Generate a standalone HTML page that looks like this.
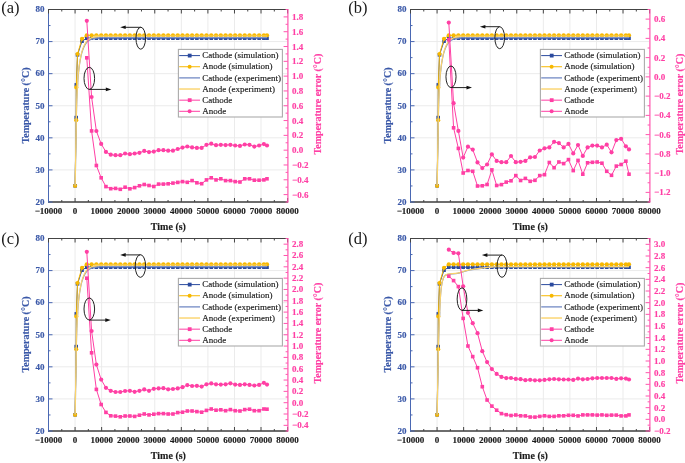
<!DOCTYPE html>
<html><head><meta charset="utf-8"><title>Temperature figure</title>
<style>html,body{margin:0;padding:0;background:#fff;width:685px;height:463px;overflow:hidden;font-family:"Liberation Serif",serif}svg{display:block;will-change:transform;filter:blur(0.25px)}</style>
</head><body>
<svg width="685" height="463" viewBox="0 0 685 463"><g transform="translate(0,0)">
<path d="M75.07,10 V201.5 M101.63,10 V201.5 M128.2,10 V201.5 M154.77,10 V201.5 M181.33,10 V201.5 M207.9,10 V201.5 M234.47,10 V201.5 M261.03,10 V201.5 M49,169.92 H287.1 M49,137.83 H287.1 M49,105.75 H287.1 M49,73.67 H287.1 M49,41.58 H287.1" stroke="#ebebeb" stroke-width="1" fill="none"/>
<polyline points="75.1,185.8 76.2,117.6 76.3,84.9 77.5,54.8 82.01,41.2 86.8,38.2 91.59,38.2 96.37,38.2 101.16,38.2 105.94,38.2 110.73,38.2 115.52,38.2 120.3,38.2 125.09,38.2 129.87,38.2 134.66,38.2 139.45,38.2 144.23,38.2 149.02,38.2 153.8,38.2 158.59,38.2 163.38,38.2 168.16,38.2 172.95,38.2 177.73,38.2 182.52,38.2 187.31,38.2 192.09,38.2 196.88,38.2 201.66,38.2 206.45,38.2 211.24,38.2 216.02,38.2 220.81,38.2 225.59,38.2 230.38,38.2 235.17,38.2 239.95,38.2 244.74,38.2 249.52,38.2 254.31,38.2 259.1,38.2 263.88,38.2 267,38.2" stroke="#2b4a9e" stroke-width="1" fill="none"/>
<g fill="#2b4a9e"><rect x="73.3" y="184" width="3.6" height="3.6"/><rect x="74.4" y="115.8" width="3.6" height="3.6"/><rect x="74.5" y="83.1" width="3.6" height="3.6"/><rect x="75.7" y="53" width="3.6" height="3.6"/><rect x="80.21" y="39.4" width="3.6" height="3.6"/><rect x="85" y="36.4" width="3.6" height="3.6"/><rect x="89.79" y="36.4" width="3.6" height="3.6"/><rect x="94.57" y="36.4" width="3.6" height="3.6"/><rect x="99.36" y="36.4" width="3.6" height="3.6"/><rect x="104.14" y="36.4" width="3.6" height="3.6"/><rect x="108.93" y="36.4" width="3.6" height="3.6"/><rect x="113.72" y="36.4" width="3.6" height="3.6"/><rect x="118.5" y="36.4" width="3.6" height="3.6"/><rect x="123.29" y="36.4" width="3.6" height="3.6"/><rect x="128.07" y="36.4" width="3.6" height="3.6"/><rect x="132.86" y="36.4" width="3.6" height="3.6"/><rect x="137.65" y="36.4" width="3.6" height="3.6"/><rect x="142.43" y="36.4" width="3.6" height="3.6"/><rect x="147.22" y="36.4" width="3.6" height="3.6"/><rect x="152" y="36.4" width="3.6" height="3.6"/><rect x="156.79" y="36.4" width="3.6" height="3.6"/><rect x="161.58" y="36.4" width="3.6" height="3.6"/><rect x="166.36" y="36.4" width="3.6" height="3.6"/><rect x="171.15" y="36.4" width="3.6" height="3.6"/><rect x="175.93" y="36.4" width="3.6" height="3.6"/><rect x="180.72" y="36.4" width="3.6" height="3.6"/><rect x="185.51" y="36.4" width="3.6" height="3.6"/><rect x="190.29" y="36.4" width="3.6" height="3.6"/><rect x="195.08" y="36.4" width="3.6" height="3.6"/><rect x="199.86" y="36.4" width="3.6" height="3.6"/><rect x="204.65" y="36.4" width="3.6" height="3.6"/><rect x="209.44" y="36.4" width="3.6" height="3.6"/><rect x="214.22" y="36.4" width="3.6" height="3.6"/><rect x="219.01" y="36.4" width="3.6" height="3.6"/><rect x="223.79" y="36.4" width="3.6" height="3.6"/><rect x="228.58" y="36.4" width="3.6" height="3.6"/><rect x="233.37" y="36.4" width="3.6" height="3.6"/><rect x="238.15" y="36.4" width="3.6" height="3.6"/><rect x="242.94" y="36.4" width="3.6" height="3.6"/><rect x="247.72" y="36.4" width="3.6" height="3.6"/><rect x="252.51" y="36.4" width="3.6" height="3.6"/><rect x="257.3" y="36.4" width="3.6" height="3.6"/><rect x="262.08" y="36.4" width="3.6" height="3.6"/><rect x="265.2" y="36.4" width="3.6" height="3.6"/></g>
<polyline points="75.1,185.8 76.2,120.2 76.3,87.4 77.5,54 82.01,38.8 86.8,35.3 91.59,35.3 96.37,35.3 101.16,35.3 105.94,35.3 110.73,35.3 115.52,35.3 120.3,35.3 125.09,35.3 129.87,35.3 134.66,35.3 139.45,35.3 144.23,35.3 149.02,35.3 153.8,35.3 158.59,35.3 163.38,35.3 168.16,35.3 172.95,35.3 177.73,35.3 182.52,35.3 187.31,35.3 192.09,35.3 196.88,35.3 201.66,35.3 206.45,35.3 211.24,35.3 216.02,35.3 220.81,35.3 225.59,35.3 230.38,35.3 235.17,35.3 239.95,35.3 244.74,35.3 249.52,35.3 254.31,35.3 259.1,35.3 263.88,35.3 267,35.3" stroke="#f7b800" stroke-width="1" fill="none"/>
<g fill="#f7b800"><circle cx="75.1" cy="185.8" r="2.1"/><circle cx="76.2" cy="120.2" r="2.1"/><circle cx="76.3" cy="87.4" r="2.1"/><circle cx="77.5" cy="54" r="2.1"/><circle cx="82.01" cy="38.8" r="2.1"/><circle cx="86.8" cy="35.3" r="2.1"/><circle cx="91.59" cy="35.3" r="2.1"/><circle cx="96.37" cy="35.3" r="2.1"/><circle cx="101.16" cy="35.3" r="2.1"/><circle cx="105.94" cy="35.3" r="2.1"/><circle cx="110.73" cy="35.3" r="2.1"/><circle cx="115.52" cy="35.3" r="2.1"/><circle cx="120.3" cy="35.3" r="2.1"/><circle cx="125.09" cy="35.3" r="2.1"/><circle cx="129.87" cy="35.3" r="2.1"/><circle cx="134.66" cy="35.3" r="2.1"/><circle cx="139.45" cy="35.3" r="2.1"/><circle cx="144.23" cy="35.3" r="2.1"/><circle cx="149.02" cy="35.3" r="2.1"/><circle cx="153.8" cy="35.3" r="2.1"/><circle cx="158.59" cy="35.3" r="2.1"/><circle cx="163.38" cy="35.3" r="2.1"/><circle cx="168.16" cy="35.3" r="2.1"/><circle cx="172.95" cy="35.3" r="2.1"/><circle cx="177.73" cy="35.3" r="2.1"/><circle cx="182.52" cy="35.3" r="2.1"/><circle cx="187.31" cy="35.3" r="2.1"/><circle cx="192.09" cy="35.3" r="2.1"/><circle cx="196.88" cy="35.3" r="2.1"/><circle cx="201.66" cy="35.3" r="2.1"/><circle cx="206.45" cy="35.3" r="2.1"/><circle cx="211.24" cy="35.3" r="2.1"/><circle cx="216.02" cy="35.3" r="2.1"/><circle cx="220.81" cy="35.3" r="2.1"/><circle cx="225.59" cy="35.3" r="2.1"/><circle cx="230.38" cy="35.3" r="2.1"/><circle cx="235.17" cy="35.3" r="2.1"/><circle cx="239.95" cy="35.3" r="2.1"/><circle cx="244.74" cy="35.3" r="2.1"/><circle cx="249.52" cy="35.3" r="2.1"/><circle cx="254.31" cy="35.3" r="2.1"/><circle cx="259.1" cy="35.3" r="2.1"/><circle cx="263.88" cy="35.3" r="2.1"/><circle cx="267" cy="35.3" r="2.1"/></g>
<path d="M75.2,185.5 C75.27,181.25 75.43,170.08 75.6,160 C75.77,149.92 76,135 76.2,125 C76.4,115 76.52,107.58 76.8,100 C77.08,92.42 77.5,85.07 77.9,79.5 C78.3,73.93 78.78,69.98 79.2,66.6 C79.62,63.22 80,61.37 80.4,59.2 C80.8,57.03 81.05,55.53 81.6,53.6 C82.15,51.67 82.82,49.53 83.7,47.6 C84.58,45.67 85.62,43.4 86.9,42 C88.18,40.6 89.57,39.87 91.4,39.2 C93.23,38.53 94.8,38.25 97.9,38 C101,37.75 81.82,37.77 110,37.7 C138.18,37.63 240.83,37.62 267,37.6" stroke="#7d93c9" stroke-width="1.2" fill="none"/>
<path d="M75.2,185.5 C75.27,181.25 75.43,170.08 75.6,160 C75.77,149.92 76,135 76.2,125 C76.4,115 76.52,107.67 76.8,100 C77.08,92.33 77.5,84.67 77.9,79 C78.3,73.33 78.78,69.42 79.2,66 C79.62,62.58 80,60.7 80.4,58.5 C80.8,56.3 81.05,54.78 81.6,52.8 C82.15,50.82 82.82,48.6 83.7,46.6 C84.58,44.6 85.62,42.25 86.9,40.8 C88.18,39.35 89.57,38.6 91.4,37.9 C93.23,37.2 94.8,36.9 97.9,36.6 C101,36.3 81.82,36.2 110,36.1 C138.18,36 240.83,36.02 267,36" stroke="#fbd36a" stroke-width="1.2" fill="none"/>
<polyline points="86.8,57.8 91.59,130.9 96.37,165.5 101.16,177.8 105.94,186.6 110.73,188.7 115.52,188.4 120.3,189.3 125.09,187.2 129.87,188.8 134.66,187.6 139.45,185.8 144.23,184.5 149.02,185.5 153.8,186.5 158.59,184.1 163.38,184.1 168.16,183.8 172.95,183.1 177.73,182.4 182.52,181.6 187.31,182.3 192.09,180.6 196.88,182.8 201.66,183.7 206.45,179.9 211.24,177.8 216.02,179.9 220.81,178.8 225.59,180.6 230.38,180.6 235.17,181.6 239.95,182 244.74,178.8 249.52,178.8 254.31,180.2 259.1,180.2 263.88,179.9 267,178.8" stroke="#ff3fa4" stroke-width="1" fill="none"/>
<g fill="#ff3fa4"><rect x="85" y="56" width="3.6" height="3.6"/><rect x="89.79" y="129.1" width="3.6" height="3.6"/><rect x="94.57" y="163.7" width="3.6" height="3.6"/><rect x="99.36" y="176" width="3.6" height="3.6"/><rect x="104.14" y="184.8" width="3.6" height="3.6"/><rect x="108.93" y="186.9" width="3.6" height="3.6"/><rect x="113.72" y="186.6" width="3.6" height="3.6"/><rect x="118.5" y="187.5" width="3.6" height="3.6"/><rect x="123.29" y="185.4" width="3.6" height="3.6"/><rect x="128.07" y="187" width="3.6" height="3.6"/><rect x="132.86" y="185.8" width="3.6" height="3.6"/><rect x="137.65" y="184" width="3.6" height="3.6"/><rect x="142.43" y="182.7" width="3.6" height="3.6"/><rect x="147.22" y="183.7" width="3.6" height="3.6"/><rect x="152" y="184.7" width="3.6" height="3.6"/><rect x="156.79" y="182.3" width="3.6" height="3.6"/><rect x="161.58" y="182.3" width="3.6" height="3.6"/><rect x="166.36" y="182" width="3.6" height="3.6"/><rect x="171.15" y="181.3" width="3.6" height="3.6"/><rect x="175.93" y="180.6" width="3.6" height="3.6"/><rect x="180.72" y="179.8" width="3.6" height="3.6"/><rect x="185.51" y="180.5" width="3.6" height="3.6"/><rect x="190.29" y="178.8" width="3.6" height="3.6"/><rect x="195.08" y="181" width="3.6" height="3.6"/><rect x="199.86" y="181.9" width="3.6" height="3.6"/><rect x="204.65" y="178.1" width="3.6" height="3.6"/><rect x="209.44" y="176" width="3.6" height="3.6"/><rect x="214.22" y="178.1" width="3.6" height="3.6"/><rect x="219.01" y="177" width="3.6" height="3.6"/><rect x="223.79" y="178.8" width="3.6" height="3.6"/><rect x="228.58" y="178.8" width="3.6" height="3.6"/><rect x="233.37" y="179.8" width="3.6" height="3.6"/><rect x="238.15" y="180.2" width="3.6" height="3.6"/><rect x="242.94" y="177" width="3.6" height="3.6"/><rect x="247.72" y="177" width="3.6" height="3.6"/><rect x="252.51" y="178.4" width="3.6" height="3.6"/><rect x="257.3" y="178.4" width="3.6" height="3.6"/><rect x="262.08" y="178.1" width="3.6" height="3.6"/><rect x="265.2" y="177" width="3.6" height="3.6"/></g>
<polyline points="86.8,20.8 91.59,97 96.37,131 101.16,143.9 105.94,151.9 110.73,154.7 115.52,155.2 120.3,155.2 125.09,153.5 129.87,154.2 134.66,153.5 139.45,152.8 144.23,150.9 149.02,152.1 153.8,151.6 158.59,150.2 163.38,150.2 168.16,150.7 172.95,150.7 177.73,149 182.52,147.6 187.31,146.5 192.09,147.4 196.88,147.9 201.66,147.9 206.45,144.8 211.24,143.7 216.02,145.2 220.81,144.8 225.59,145.1 230.38,144.8 235.17,145.5 239.95,145.9 244.74,144.5 249.52,144.8 254.31,146.6 259.1,145.5 263.88,144.1 267,145.5" stroke="#ff3fa4" stroke-width="1" fill="none"/>
<g fill="#ff3fa4"><circle cx="86.8" cy="20.8" r="2.1"/><circle cx="91.59" cy="97" r="2.1"/><circle cx="96.37" cy="131" r="2.1"/><circle cx="101.16" cy="143.9" r="2.1"/><circle cx="105.94" cy="151.9" r="2.1"/><circle cx="110.73" cy="154.7" r="2.1"/><circle cx="115.52" cy="155.2" r="2.1"/><circle cx="120.3" cy="155.2" r="2.1"/><circle cx="125.09" cy="153.5" r="2.1"/><circle cx="129.87" cy="154.2" r="2.1"/><circle cx="134.66" cy="153.5" r="2.1"/><circle cx="139.45" cy="152.8" r="2.1"/><circle cx="144.23" cy="150.9" r="2.1"/><circle cx="149.02" cy="152.1" r="2.1"/><circle cx="153.8" cy="151.6" r="2.1"/><circle cx="158.59" cy="150.2" r="2.1"/><circle cx="163.38" cy="150.2" r="2.1"/><circle cx="168.16" cy="150.7" r="2.1"/><circle cx="172.95" cy="150.7" r="2.1"/><circle cx="177.73" cy="149" r="2.1"/><circle cx="182.52" cy="147.6" r="2.1"/><circle cx="187.31" cy="146.5" r="2.1"/><circle cx="192.09" cy="147.4" r="2.1"/><circle cx="196.88" cy="147.9" r="2.1"/><circle cx="201.66" cy="147.9" r="2.1"/><circle cx="206.45" cy="144.8" r="2.1"/><circle cx="211.24" cy="143.7" r="2.1"/><circle cx="216.02" cy="145.2" r="2.1"/><circle cx="220.81" cy="144.8" r="2.1"/><circle cx="225.59" cy="145.1" r="2.1"/><circle cx="230.38" cy="144.8" r="2.1"/><circle cx="235.17" cy="145.5" r="2.1"/><circle cx="239.95" cy="145.9" r="2.1"/><circle cx="244.74" cy="144.5" r="2.1"/><circle cx="249.52" cy="144.8" r="2.1"/><circle cx="254.31" cy="146.6" r="2.1"/><circle cx="259.1" cy="145.5" r="2.1"/><circle cx="263.88" cy="144.1" r="2.1"/><circle cx="267" cy="145.5" r="2.1"/></g>
<ellipse cx="140.75" cy="38.2" rx="4.8" ry="11" stroke="#222" stroke-width="1" fill="none"/>
<path d="M140.75,27.3 H124.2" stroke="#222" stroke-width="1" fill="none"/>
<path d="M120.2,27.3 L125.7,25.5 L125.7,29.1 Z" fill="#111"/>
<ellipse cx="89.3" cy="78.35" rx="5.3" ry="11.05" stroke="#222" stroke-width="1" fill="none"/>
<path d="M89.3,89.4 H107.3" stroke="#222" stroke-width="1" fill="none"/>
<path d="M111.3,89.4 L105.8,87.6 L105.8,91.2 Z" fill="#111"/>
<rect x="178.4" y="49.4" width="104" height="67.6" fill="#fff" stroke="#ababab" stroke-width="1.1"/>
<path d="M179.2,55.6 H200" stroke="#2b4a9e" stroke-width="1"/>
<rect x="187.8" y="53.7" width="3.8" height="3.8" fill="#2b4a9e"/>
<text x="202.2" y="58" font-family="Liberation Serif" font-size="9" fill="#1a1a1a" stroke="#1a1a1a" stroke-width="0.15">Cathode (simulation)</text>
<path d="M179.2,66.74 H200" stroke="#f7b800" stroke-width="1"/>
<circle cx="189.6" cy="66.74" r="2" fill="#f7b800"/>
<text x="202.2" y="69" font-family="Liberation Serif" font-size="9" fill="#1a1a1a" stroke="#1a1a1a" stroke-width="0.15">Anode (simulation)</text>
<path d="M179.2,77.88 H200" stroke="#7d93c9" stroke-width="1.4"/>
<text x="202.2" y="81" font-family="Liberation Serif" font-size="9" fill="#1a1a1a" stroke="#1a1a1a" stroke-width="0.15">Cathode (experiment)</text>
<path d="M179.2,89.02 H200" stroke="#fbd36a" stroke-width="1.4"/>
<text x="202.2" y="92" font-family="Liberation Serif" font-size="9" fill="#1a1a1a" stroke="#1a1a1a" stroke-width="0.15">Anode (experiment)</text>
<path d="M179.2,100.16 H200" stroke="#ff3fa4" stroke-width="1"/>
<rect x="187.8" y="98.26" width="3.8" height="3.8" fill="#ff3fa4"/>
<text x="202.2" y="103" font-family="Liberation Serif" font-size="9" fill="#1a1a1a" stroke="#1a1a1a" stroke-width="0.15">Cathode</text>
<path d="M179.2,111.3 H200" stroke="#ff3fa4" stroke-width="1"/>
<circle cx="189.6" cy="111.3" r="2" fill="#ff3fa4"/>
<text x="202.2" y="114" font-family="Liberation Serif" font-size="9" fill="#1a1a1a" stroke="#1a1a1a" stroke-width="0.15">Anode</text>
<path d="M48,202 H288.1" stroke="#3c3c3c" stroke-width="1.4"/>
<path d="M48.5,202 v-4 M61.78,202 v-2 M75.07,202 v-4 M88.35,202 v-2 M101.63,202 v-4 M114.92,202 v-2 M128.2,202 v-4 M141.48,202 v-2 M154.77,202 v-4 M168.05,202 v-2 M181.33,202 v-4 M194.62,202 v-2 M207.9,202 v-4 M221.18,202 v-2 M234.47,202 v-4 M247.75,202 v-2 M261.03,202 v-4 M274.32,202 v-2 M287.6,202 v-4" stroke="#444" stroke-width="1"/>
<path d="M48.5,9 V202.5 M48.5,202 h4 M48.5,185.96 h2 M48.5,169.92 h4 M48.5,153.88 h2 M48.5,137.83 h4 M48.5,121.79 h2 M48.5,105.75 h4 M48.5,89.71 h2 M48.5,73.67 h4 M48.5,57.62 h2 M48.5,41.58 h4 M48.5,25.54 h2 M48.5,9.5 h4" stroke="#4a68b3" stroke-width="1"/>
<path d="M48,9.5 H288.1 M48.5,9.5 v4 M61.78,9.5 v2 M75.07,9.5 v4 M88.35,9.5 v2 M101.63,9.5 v4 M114.92,9.5 v2 M128.2,9.5 v4 M141.48,9.5 v2 M154.77,9.5 v4 M168.05,9.5 v2 M181.33,9.5 v4 M194.62,9.5 v2 M207.9,9.5 v4 M221.18,9.5 v2 M234.47,9.5 v4 M247.75,9.5 v2 M261.03,9.5 v4 M274.32,9.5 v2 M287.6,9.5 v4" stroke="#444" stroke-width="1"/>
<path d="M287.9,9 V202.6" stroke="#ff55ae" stroke-width="1.2"/>
<path d="M287.8,202 h-2.2 M287.8,194.6 h-4.2 M287.8,187.19 h-2.2 M287.8,179.79 h-4.2 M287.8,172.38 h-2.2 M287.8,164.98 h-4.2 M287.8,157.58 h-2.2 M287.8,150.17 h-4.2 M287.8,142.77 h-2.2 M287.8,135.37 h-4.2 M287.8,127.96 h-2.2 M287.8,120.56 h-4.2 M287.8,113.15 h-2.2 M287.8,105.75 h-4.2 M287.8,98.35 h-2.2 M287.8,90.94 h-4.2 M287.8,83.54 h-2.2 M287.8,76.13 h-4.2 M287.8,68.73 h-2.2 M287.8,61.33 h-4.2 M287.8,53.92 h-2.2 M287.8,46.52 h-4.2 M287.8,39.12 h-2.2 M287.8,31.71 h-4.2 M287.8,24.31 h-2.2 M287.8,16.9 h-4.2 M287.8,9.5 h-2.2" stroke="#ff55ae" stroke-width="1"/>
<g font-family="Liberation Serif" font-size="9" font-weight="bold" fill="#3a58a8" text-anchor="end" stroke="#3a58a8" stroke-width="0.15"><text x="44.6" y="205">20</text><text x="44.6" y="173">30</text><text x="44.6" y="141">40</text><text x="44.6" y="109">50</text><text x="44.6" y="76">60</text><text x="44.6" y="44">70</text><text x="44.6" y="12">80</text></g>
<g font-family="Liberation Serif" font-size="9" font-weight="bold" fill="#1a1a1a" text-anchor="middle" stroke="#1a1a1a" stroke-width="0.15"><text x="48.5" y="214">−10000</text><text x="75.07" y="214">0</text><text x="101.63" y="214">10000</text><text x="128.2" y="214">20000</text><text x="154.77" y="214">30000</text><text x="181.33" y="214">40000</text><text x="207.9" y="214">50000</text><text x="234.47" y="214">60000</text><text x="261.03" y="214">70000</text><text x="287.6" y="214">80000</text></g>
<g font-family="Liberation Serif" font-size="9" font-weight="bold" fill="#ff3fa4" stroke="#ff3fa4" stroke-width="0.15"><text x="292.0" y="198">−0.6</text><text x="292.0" y="183">−0.4</text><text x="292.0" y="168">−0.2</text><text x="292.0" y="153">0.0</text><text x="292.0" y="138">0.2</text><text x="292.0" y="124">0.4</text><text x="292.0" y="109">0.6</text><text x="292.0" y="94">0.8</text><text x="292.0" y="79">1.0</text><text x="292.0" y="64">1.2</text><text x="292.0" y="50">1.4</text><text x="292.0" y="35">1.6</text><text x="292.0" y="20">1.8</text></g>
<text transform="translate(29.0,105.5) rotate(-90)" font-family="Liberation Serif" font-size="10" font-weight="bold" fill="#3a58a8" text-anchor="middle" stroke="#3a58a8" stroke-width="0.15">Temperature (°C)</text>
<text transform="translate(321.0,104.0) rotate(-90)" font-family="Liberation Serif" font-size="10" font-weight="bold" fill="#ff3fa4" text-anchor="middle" stroke="#ff3fa4" stroke-width="0.15">Temperature error (°C)</text>
<text x="168.4" y="229.5" font-family="Liberation Serif" font-size="10" font-weight="bold" fill="#1a1a1a" text-anchor="middle" stroke="#1a1a1a" stroke-width="0.15">Time (s)</text>
</g>
<g transform="translate(362,0)">
<path d="M75.07,10 V201.5 M101.63,10 V201.5 M128.2,10 V201.5 M154.77,10 V201.5 M181.33,10 V201.5 M207.9,10 V201.5 M234.47,10 V201.5 M261.03,10 V201.5 M49,169.92 H287.1 M49,137.83 H287.1 M49,105.75 H287.1 M49,73.67 H287.1 M49,41.58 H287.1" stroke="#ebebeb" stroke-width="1" fill="none"/>
<polyline points="75.1,185.8 76.2,117.6 76.3,84.9 77.5,54.8 82.01,41.2 86.8,38.2 91.59,38.2 96.37,38.2 101.16,38.2 105.94,38.2 110.73,38.2 115.52,38.2 120.3,38.2 125.09,38.2 129.87,38.2 134.66,38.2 139.45,38.2 144.23,38.2 149.02,38.2 153.8,38.2 158.59,38.2 163.38,38.2 168.16,38.2 172.95,38.2 177.73,38.2 182.52,38.2 187.31,38.2 192.09,38.2 196.88,38.2 201.66,38.2 206.45,38.2 211.24,38.2 216.02,38.2 220.81,38.2 225.59,38.2 230.38,38.2 235.17,38.2 239.95,38.2 244.74,38.2 249.52,38.2 254.31,38.2 259.1,38.2 263.88,38.2 267,38.2" stroke="#2b4a9e" stroke-width="1" fill="none"/>
<g fill="#2b4a9e"><rect x="73.3" y="184" width="3.6" height="3.6"/><rect x="74.4" y="115.8" width="3.6" height="3.6"/><rect x="74.5" y="83.1" width="3.6" height="3.6"/><rect x="75.7" y="53" width="3.6" height="3.6"/><rect x="80.21" y="39.4" width="3.6" height="3.6"/><rect x="85" y="36.4" width="3.6" height="3.6"/><rect x="89.79" y="36.4" width="3.6" height="3.6"/><rect x="94.57" y="36.4" width="3.6" height="3.6"/><rect x="99.36" y="36.4" width="3.6" height="3.6"/><rect x="104.14" y="36.4" width="3.6" height="3.6"/><rect x="108.93" y="36.4" width="3.6" height="3.6"/><rect x="113.72" y="36.4" width="3.6" height="3.6"/><rect x="118.5" y="36.4" width="3.6" height="3.6"/><rect x="123.29" y="36.4" width="3.6" height="3.6"/><rect x="128.07" y="36.4" width="3.6" height="3.6"/><rect x="132.86" y="36.4" width="3.6" height="3.6"/><rect x="137.65" y="36.4" width="3.6" height="3.6"/><rect x="142.43" y="36.4" width="3.6" height="3.6"/><rect x="147.22" y="36.4" width="3.6" height="3.6"/><rect x="152" y="36.4" width="3.6" height="3.6"/><rect x="156.79" y="36.4" width="3.6" height="3.6"/><rect x="161.58" y="36.4" width="3.6" height="3.6"/><rect x="166.36" y="36.4" width="3.6" height="3.6"/><rect x="171.15" y="36.4" width="3.6" height="3.6"/><rect x="175.93" y="36.4" width="3.6" height="3.6"/><rect x="180.72" y="36.4" width="3.6" height="3.6"/><rect x="185.51" y="36.4" width="3.6" height="3.6"/><rect x="190.29" y="36.4" width="3.6" height="3.6"/><rect x="195.08" y="36.4" width="3.6" height="3.6"/><rect x="199.86" y="36.4" width="3.6" height="3.6"/><rect x="204.65" y="36.4" width="3.6" height="3.6"/><rect x="209.44" y="36.4" width="3.6" height="3.6"/><rect x="214.22" y="36.4" width="3.6" height="3.6"/><rect x="219.01" y="36.4" width="3.6" height="3.6"/><rect x="223.79" y="36.4" width="3.6" height="3.6"/><rect x="228.58" y="36.4" width="3.6" height="3.6"/><rect x="233.37" y="36.4" width="3.6" height="3.6"/><rect x="238.15" y="36.4" width="3.6" height="3.6"/><rect x="242.94" y="36.4" width="3.6" height="3.6"/><rect x="247.72" y="36.4" width="3.6" height="3.6"/><rect x="252.51" y="36.4" width="3.6" height="3.6"/><rect x="257.3" y="36.4" width="3.6" height="3.6"/><rect x="262.08" y="36.4" width="3.6" height="3.6"/><rect x="265.2" y="36.4" width="3.6" height="3.6"/></g>
<polyline points="75.1,185.8 76.2,120.2 76.3,87.4 77.5,54 82.01,38.8 86.8,35.3 91.59,35.3 96.37,35.3 101.16,35.3 105.94,35.3 110.73,35.3 115.52,35.3 120.3,35.3 125.09,35.3 129.87,35.3 134.66,35.3 139.45,35.3 144.23,35.3 149.02,35.3 153.8,35.3 158.59,35.3 163.38,35.3 168.16,35.3 172.95,35.3 177.73,35.3 182.52,35.3 187.31,35.3 192.09,35.3 196.88,35.3 201.66,35.3 206.45,35.3 211.24,35.3 216.02,35.3 220.81,35.3 225.59,35.3 230.38,35.3 235.17,35.3 239.95,35.3 244.74,35.3 249.52,35.3 254.31,35.3 259.1,35.3 263.88,35.3 267,35.3" stroke="#f7b800" stroke-width="1" fill="none"/>
<g fill="#f7b800"><circle cx="75.1" cy="185.8" r="2.1"/><circle cx="76.2" cy="120.2" r="2.1"/><circle cx="76.3" cy="87.4" r="2.1"/><circle cx="77.5" cy="54" r="2.1"/><circle cx="82.01" cy="38.8" r="2.1"/><circle cx="86.8" cy="35.3" r="2.1"/><circle cx="91.59" cy="35.3" r="2.1"/><circle cx="96.37" cy="35.3" r="2.1"/><circle cx="101.16" cy="35.3" r="2.1"/><circle cx="105.94" cy="35.3" r="2.1"/><circle cx="110.73" cy="35.3" r="2.1"/><circle cx="115.52" cy="35.3" r="2.1"/><circle cx="120.3" cy="35.3" r="2.1"/><circle cx="125.09" cy="35.3" r="2.1"/><circle cx="129.87" cy="35.3" r="2.1"/><circle cx="134.66" cy="35.3" r="2.1"/><circle cx="139.45" cy="35.3" r="2.1"/><circle cx="144.23" cy="35.3" r="2.1"/><circle cx="149.02" cy="35.3" r="2.1"/><circle cx="153.8" cy="35.3" r="2.1"/><circle cx="158.59" cy="35.3" r="2.1"/><circle cx="163.38" cy="35.3" r="2.1"/><circle cx="168.16" cy="35.3" r="2.1"/><circle cx="172.95" cy="35.3" r="2.1"/><circle cx="177.73" cy="35.3" r="2.1"/><circle cx="182.52" cy="35.3" r="2.1"/><circle cx="187.31" cy="35.3" r="2.1"/><circle cx="192.09" cy="35.3" r="2.1"/><circle cx="196.88" cy="35.3" r="2.1"/><circle cx="201.66" cy="35.3" r="2.1"/><circle cx="206.45" cy="35.3" r="2.1"/><circle cx="211.24" cy="35.3" r="2.1"/><circle cx="216.02" cy="35.3" r="2.1"/><circle cx="220.81" cy="35.3" r="2.1"/><circle cx="225.59" cy="35.3" r="2.1"/><circle cx="230.38" cy="35.3" r="2.1"/><circle cx="235.17" cy="35.3" r="2.1"/><circle cx="239.95" cy="35.3" r="2.1"/><circle cx="244.74" cy="35.3" r="2.1"/><circle cx="249.52" cy="35.3" r="2.1"/><circle cx="254.31" cy="35.3" r="2.1"/><circle cx="259.1" cy="35.3" r="2.1"/><circle cx="263.88" cy="35.3" r="2.1"/><circle cx="267" cy="35.3" r="2.1"/></g>
<path d="M75.2,185.5 C75.27,181.25 75.43,170.08 75.6,160 C75.77,149.92 76,135 76.2,125 C76.4,115 76.52,107.58 76.8,100 C77.08,92.42 77.5,85.07 77.9,79.5 C78.3,73.93 78.78,69.98 79.2,66.6 C79.62,63.22 80,61.37 80.4,59.2 C80.8,57.03 81.05,55.53 81.6,53.6 C82.15,51.67 82.82,49.53 83.7,47.6 C84.58,45.67 85.62,43.4 86.9,42 C88.18,40.6 89.57,39.87 91.4,39.2 C93.23,38.53 94.8,38.25 97.9,38 C101,37.75 81.82,37.77 110,37.7 C138.18,37.63 240.83,37.62 267,37.6" stroke="#7d93c9" stroke-width="1.2" fill="none"/>
<path d="M75.2,185.5 C75.27,181.25 75.43,170.08 75.6,160 C75.77,149.92 76,135 76.2,125 C76.4,115 76.52,107.67 76.8,100 C77.08,92.33 77.5,84.67 77.9,79 C78.3,73.33 78.78,69.42 79.2,66 C79.62,62.58 80,60.7 80.4,58.5 C80.8,56.3 81.05,54.78 81.6,52.8 C82.15,50.82 82.82,48.6 83.7,46.6 C84.58,44.6 85.62,42.25 86.9,40.8 C88.18,39.35 89.57,38.6 91.4,37.9 C93.23,37.2 94.8,36.9 97.9,36.6 C101,36.3 81.82,36.2 110,36.1 C138.18,36 240.83,36.02 267,36" stroke="#fbd36a" stroke-width="1.2" fill="none"/>
<polyline points="86.8,39.8 91.59,127.8 96.37,148.4 101.16,173 105.94,170.5 110.73,171.3 115.52,186 120.3,185.8 125.09,184.5 129.87,169.9 134.66,185.5 139.45,184.6 144.23,182.1 149.02,180.8 153.8,175.6 158.59,180.5 163.38,178.4 168.16,181.3 172.95,180.3 177.73,175.6 182.52,174.7 187.31,162.5 192.09,167.7 196.88,162 201.66,163.6 206.45,159.6 211.24,170.6 216.02,160.4 220.81,174.2 225.59,162.8 230.38,162.3 235.17,162 239.95,163.2 244.74,171.3 249.52,175.3 254.31,166.1 259.1,164.5 263.88,161.2 267,174.2" stroke="#ff3fa4" stroke-width="1" fill="none"/>
<g fill="#ff3fa4"><rect x="85" y="38" width="3.6" height="3.6"/><rect x="89.79" y="126" width="3.6" height="3.6"/><rect x="94.57" y="146.6" width="3.6" height="3.6"/><rect x="99.36" y="171.2" width="3.6" height="3.6"/><rect x="104.14" y="168.7" width="3.6" height="3.6"/><rect x="108.93" y="169.5" width="3.6" height="3.6"/><rect x="113.72" y="184.2" width="3.6" height="3.6"/><rect x="118.5" y="184" width="3.6" height="3.6"/><rect x="123.29" y="182.7" width="3.6" height="3.6"/><rect x="128.07" y="168.1" width="3.6" height="3.6"/><rect x="132.86" y="183.7" width="3.6" height="3.6"/><rect x="137.65" y="182.8" width="3.6" height="3.6"/><rect x="142.43" y="180.3" width="3.6" height="3.6"/><rect x="147.22" y="179" width="3.6" height="3.6"/><rect x="152" y="173.8" width="3.6" height="3.6"/><rect x="156.79" y="178.7" width="3.6" height="3.6"/><rect x="161.58" y="176.6" width="3.6" height="3.6"/><rect x="166.36" y="179.5" width="3.6" height="3.6"/><rect x="171.15" y="178.5" width="3.6" height="3.6"/><rect x="175.93" y="173.8" width="3.6" height="3.6"/><rect x="180.72" y="172.9" width="3.6" height="3.6"/><rect x="185.51" y="160.7" width="3.6" height="3.6"/><rect x="190.29" y="165.9" width="3.6" height="3.6"/><rect x="195.08" y="160.2" width="3.6" height="3.6"/><rect x="199.86" y="161.8" width="3.6" height="3.6"/><rect x="204.65" y="157.8" width="3.6" height="3.6"/><rect x="209.44" y="168.8" width="3.6" height="3.6"/><rect x="214.22" y="158.6" width="3.6" height="3.6"/><rect x="219.01" y="172.4" width="3.6" height="3.6"/><rect x="223.79" y="161" width="3.6" height="3.6"/><rect x="228.58" y="160.5" width="3.6" height="3.6"/><rect x="233.37" y="160.2" width="3.6" height="3.6"/><rect x="238.15" y="161.4" width="3.6" height="3.6"/><rect x="242.94" y="169.5" width="3.6" height="3.6"/><rect x="247.72" y="173.5" width="3.6" height="3.6"/><rect x="252.51" y="164.3" width="3.6" height="3.6"/><rect x="257.3" y="162.7" width="3.6" height="3.6"/><rect x="262.08" y="159.4" width="3.6" height="3.6"/><rect x="265.2" y="172.4" width="3.6" height="3.6"/></g>
<polyline points="86.8,22.6 91.59,103.2 96.37,130.9 101.16,157.6 105.94,146.7 110.73,149.6 115.52,162.4 120.3,168.1 125.09,164.5 129.87,154.4 134.66,160.9 139.45,162.2 144.23,162.2 149.02,156 153.8,162.2 158.59,161.8 163.38,160.9 168.16,157.3 172.95,157 177.73,150.5 182.52,148.3 187.31,147.4 192.09,141.8 196.88,143.1 201.66,147.4 206.45,143.9 211.24,153.4 216.02,145 220.81,155.9 225.59,147.4 230.38,145.6 235.17,145.6 239.95,147.4 244.74,144.7 249.52,152.3 254.31,140.1 259.1,138.8 263.88,146.3 267,149.4" stroke="#ff3fa4" stroke-width="1" fill="none"/>
<g fill="#ff3fa4"><circle cx="86.8" cy="22.6" r="2.1"/><circle cx="91.59" cy="103.2" r="2.1"/><circle cx="96.37" cy="130.9" r="2.1"/><circle cx="101.16" cy="157.6" r="2.1"/><circle cx="105.94" cy="146.7" r="2.1"/><circle cx="110.73" cy="149.6" r="2.1"/><circle cx="115.52" cy="162.4" r="2.1"/><circle cx="120.3" cy="168.1" r="2.1"/><circle cx="125.09" cy="164.5" r="2.1"/><circle cx="129.87" cy="154.4" r="2.1"/><circle cx="134.66" cy="160.9" r="2.1"/><circle cx="139.45" cy="162.2" r="2.1"/><circle cx="144.23" cy="162.2" r="2.1"/><circle cx="149.02" cy="156" r="2.1"/><circle cx="153.8" cy="162.2" r="2.1"/><circle cx="158.59" cy="161.8" r="2.1"/><circle cx="163.38" cy="160.9" r="2.1"/><circle cx="168.16" cy="157.3" r="2.1"/><circle cx="172.95" cy="157" r="2.1"/><circle cx="177.73" cy="150.5" r="2.1"/><circle cx="182.52" cy="148.3" r="2.1"/><circle cx="187.31" cy="147.4" r="2.1"/><circle cx="192.09" cy="141.8" r="2.1"/><circle cx="196.88" cy="143.1" r="2.1"/><circle cx="201.66" cy="147.4" r="2.1"/><circle cx="206.45" cy="143.9" r="2.1"/><circle cx="211.24" cy="153.4" r="2.1"/><circle cx="216.02" cy="145" r="2.1"/><circle cx="220.81" cy="155.9" r="2.1"/><circle cx="225.59" cy="147.4" r="2.1"/><circle cx="230.38" cy="145.6" r="2.1"/><circle cx="235.17" cy="145.6" r="2.1"/><circle cx="239.95" cy="147.4" r="2.1"/><circle cx="244.74" cy="144.7" r="2.1"/><circle cx="249.52" cy="152.3" r="2.1"/><circle cx="254.31" cy="140.1" r="2.1"/><circle cx="259.1" cy="138.8" r="2.1"/><circle cx="263.88" cy="146.3" r="2.1"/><circle cx="267" cy="149.4" r="2.1"/></g>
<ellipse cx="137.7" cy="37.7" rx="4.85" ry="11" stroke="#222" stroke-width="1" fill="none"/>
<path d="M137.7,26.7 H121.9" stroke="#222" stroke-width="1" fill="none"/>
<path d="M117.9,26.7 L123.4,24.9 L123.4,28.5 Z" fill="#111"/>
<ellipse cx="89" cy="76.8" rx="5.05" ry="10.8" stroke="#222" stroke-width="1" fill="none"/>
<path d="M89,87.6 H106" stroke="#222" stroke-width="1" fill="none"/>
<path d="M110,87.6 L104.5,85.8 L104.5,89.4 Z" fill="#111"/>
<rect x="178.4" y="49.4" width="104" height="67.6" fill="#fff" stroke="#ababab" stroke-width="1.1"/>
<path d="M179.2,55.6 H200" stroke="#2b4a9e" stroke-width="1"/>
<rect x="187.8" y="53.7" width="3.8" height="3.8" fill="#2b4a9e"/>
<text x="202.2" y="58" font-family="Liberation Serif" font-size="9" fill="#1a1a1a" stroke="#1a1a1a" stroke-width="0.15">Cathode (simulation)</text>
<path d="M179.2,66.74 H200" stroke="#f7b800" stroke-width="1"/>
<circle cx="189.6" cy="66.74" r="2" fill="#f7b800"/>
<text x="202.2" y="69" font-family="Liberation Serif" font-size="9" fill="#1a1a1a" stroke="#1a1a1a" stroke-width="0.15">Anode (simulation)</text>
<path d="M179.2,77.88 H200" stroke="#7d93c9" stroke-width="1.4"/>
<text x="202.2" y="81" font-family="Liberation Serif" font-size="9" fill="#1a1a1a" stroke="#1a1a1a" stroke-width="0.15">Cathode (experiment)</text>
<path d="M179.2,89.02 H200" stroke="#fbd36a" stroke-width="1.4"/>
<text x="202.2" y="92" font-family="Liberation Serif" font-size="9" fill="#1a1a1a" stroke="#1a1a1a" stroke-width="0.15">Anode (experiment)</text>
<path d="M179.2,100.16 H200" stroke="#ff3fa4" stroke-width="1"/>
<rect x="187.8" y="98.26" width="3.8" height="3.8" fill="#ff3fa4"/>
<text x="202.2" y="103" font-family="Liberation Serif" font-size="9" fill="#1a1a1a" stroke="#1a1a1a" stroke-width="0.15">Cathode</text>
<path d="M179.2,111.3 H200" stroke="#ff3fa4" stroke-width="1"/>
<circle cx="189.6" cy="111.3" r="2" fill="#ff3fa4"/>
<text x="202.2" y="114" font-family="Liberation Serif" font-size="9" fill="#1a1a1a" stroke="#1a1a1a" stroke-width="0.15">Anode</text>
<path d="M48,202 H288.1" stroke="#3c3c3c" stroke-width="1.4"/>
<path d="M48.5,202 v-4 M61.78,202 v-2 M75.07,202 v-4 M88.35,202 v-2 M101.63,202 v-4 M114.92,202 v-2 M128.2,202 v-4 M141.48,202 v-2 M154.77,202 v-4 M168.05,202 v-2 M181.33,202 v-4 M194.62,202 v-2 M207.9,202 v-4 M221.18,202 v-2 M234.47,202 v-4 M247.75,202 v-2 M261.03,202 v-4 M274.32,202 v-2 M287.6,202 v-4" stroke="#444" stroke-width="1"/>
<path d="M48.5,9 V202.5 M48.5,202 h4 M48.5,185.96 h2 M48.5,169.92 h4 M48.5,153.88 h2 M48.5,137.83 h4 M48.5,121.79 h2 M48.5,105.75 h4 M48.5,89.71 h2 M48.5,73.67 h4 M48.5,57.62 h2 M48.5,41.58 h4 M48.5,25.54 h2 M48.5,9.5 h4" stroke="#4a68b3" stroke-width="1"/>
<path d="M48,9.5 H288.1 M48.5,9.5 v4 M61.78,9.5 v2 M75.07,9.5 v4 M88.35,9.5 v2 M101.63,9.5 v4 M114.92,9.5 v2 M128.2,9.5 v4 M141.48,9.5 v2 M154.77,9.5 v4 M168.05,9.5 v2 M181.33,9.5 v4 M194.62,9.5 v2 M207.9,9.5 v4 M221.18,9.5 v2 M234.47,9.5 v4 M247.75,9.5 v2 M261.03,9.5 v4 M274.32,9.5 v2 M287.6,9.5 v4" stroke="#444" stroke-width="1"/>
<path d="M287.9,9 V202.6" stroke="#ff55ae" stroke-width="1.2"/>
<path d="M287.8,202 h-2.2 M287.8,192.38 h-4.2 M287.8,182.75 h-2.2 M287.8,173.12 h-4.2 M287.8,163.5 h-2.2 M287.8,153.88 h-4.2 M287.8,144.25 h-2.2 M287.8,134.62 h-4.2 M287.8,125 h-2.2 M287.8,115.38 h-4.2 M287.8,105.75 h-2.2 M287.8,96.12 h-4.2 M287.8,86.5 h-2.2 M287.8,76.88 h-4.2 M287.8,67.25 h-2.2 M287.8,57.62 h-4.2 M287.8,48 h-2.2 M287.8,38.37 h-4.2 M287.8,28.75 h-2.2 M287.8,19.12 h-4.2 M287.8,9.5 h-2.2" stroke="#ff55ae" stroke-width="1"/>
<g font-family="Liberation Serif" font-size="9" font-weight="bold" fill="#3a58a8" text-anchor="end" stroke="#3a58a8" stroke-width="0.15"><text x="44.6" y="205">20</text><text x="44.6" y="173">30</text><text x="44.6" y="141">40</text><text x="44.6" y="109">50</text><text x="44.6" y="76">60</text><text x="44.6" y="44">70</text><text x="44.6" y="12">80</text></g>
<g font-family="Liberation Serif" font-size="9" font-weight="bold" fill="#1a1a1a" text-anchor="middle" stroke="#1a1a1a" stroke-width="0.15"><text x="48.5" y="214">−10000</text><text x="75.07" y="214">0</text><text x="101.63" y="214">10000</text><text x="128.2" y="214">20000</text><text x="154.77" y="214">30000</text><text x="181.33" y="214">40000</text><text x="207.9" y="214">50000</text><text x="234.47" y="214">60000</text><text x="261.03" y="214">70000</text><text x="287.6" y="214">80000</text></g>
<g font-family="Liberation Serif" font-size="9" font-weight="bold" fill="#ff3fa4" stroke="#ff3fa4" stroke-width="0.15"><text x="292.0" y="195">−1.2</text><text x="292.0" y="176">−1.0</text><text x="292.0" y="157">−0.8</text><text x="292.0" y="138">−0.6</text><text x="292.0" y="118">−0.4</text><text x="292.0" y="99">−0.2</text><text x="292.0" y="80">0.0</text><text x="292.0" y="61">0.2</text><text x="292.0" y="41">0.4</text><text x="292.0" y="22">0.6</text></g>
<text transform="translate(29.0,105.5) rotate(-90)" font-family="Liberation Serif" font-size="10" font-weight="bold" fill="#3a58a8" text-anchor="middle" stroke="#3a58a8" stroke-width="0.15">Temperature (°C)</text>
<text transform="translate(321.0,104.0) rotate(-90)" font-family="Liberation Serif" font-size="10" font-weight="bold" fill="#ff3fa4" text-anchor="middle" stroke="#ff3fa4" stroke-width="0.15">Temperature error (°C)</text>
<text x="168.4" y="229.5" font-family="Liberation Serif" font-size="10" font-weight="bold" fill="#1a1a1a" text-anchor="middle" stroke="#1a1a1a" stroke-width="0.15">Time (s)</text>
</g>
<g transform="translate(0,229)">
<path d="M75.07,10 V201.5 M101.63,10 V201.5 M128.2,10 V201.5 M154.77,10 V201.5 M181.33,10 V201.5 M207.9,10 V201.5 M234.47,10 V201.5 M261.03,10 V201.5 M49,169.92 H287.1 M49,137.83 H287.1 M49,105.75 H287.1 M49,73.67 H287.1 M49,41.58 H287.1" stroke="#ebebeb" stroke-width="1" fill="none"/>
<polyline points="75.1,185.8 76.2,117.6 76.3,84.9 77.5,54.8 82.01,41.2 86.8,38.2 91.59,38.2 96.37,38.2 101.16,38.2 105.94,38.2 110.73,38.2 115.52,38.2 120.3,38.2 125.09,38.2 129.87,38.2 134.66,38.2 139.45,38.2 144.23,38.2 149.02,38.2 153.8,38.2 158.59,38.2 163.38,38.2 168.16,38.2 172.95,38.2 177.73,38.2 182.52,38.2 187.31,38.2 192.09,38.2 196.88,38.2 201.66,38.2 206.45,38.2 211.24,38.2 216.02,38.2 220.81,38.2 225.59,38.2 230.38,38.2 235.17,38.2 239.95,38.2 244.74,38.2 249.52,38.2 254.31,38.2 259.1,38.2 263.88,38.2 267,38.2" stroke="#2b4a9e" stroke-width="1" fill="none"/>
<g fill="#2b4a9e"><rect x="73.3" y="184" width="3.6" height="3.6"/><rect x="74.4" y="115.8" width="3.6" height="3.6"/><rect x="74.5" y="83.1" width="3.6" height="3.6"/><rect x="75.7" y="53" width="3.6" height="3.6"/><rect x="80.21" y="39.4" width="3.6" height="3.6"/><rect x="85" y="36.4" width="3.6" height="3.6"/><rect x="89.79" y="36.4" width="3.6" height="3.6"/><rect x="94.57" y="36.4" width="3.6" height="3.6"/><rect x="99.36" y="36.4" width="3.6" height="3.6"/><rect x="104.14" y="36.4" width="3.6" height="3.6"/><rect x="108.93" y="36.4" width="3.6" height="3.6"/><rect x="113.72" y="36.4" width="3.6" height="3.6"/><rect x="118.5" y="36.4" width="3.6" height="3.6"/><rect x="123.29" y="36.4" width="3.6" height="3.6"/><rect x="128.07" y="36.4" width="3.6" height="3.6"/><rect x="132.86" y="36.4" width="3.6" height="3.6"/><rect x="137.65" y="36.4" width="3.6" height="3.6"/><rect x="142.43" y="36.4" width="3.6" height="3.6"/><rect x="147.22" y="36.4" width="3.6" height="3.6"/><rect x="152" y="36.4" width="3.6" height="3.6"/><rect x="156.79" y="36.4" width="3.6" height="3.6"/><rect x="161.58" y="36.4" width="3.6" height="3.6"/><rect x="166.36" y="36.4" width="3.6" height="3.6"/><rect x="171.15" y="36.4" width="3.6" height="3.6"/><rect x="175.93" y="36.4" width="3.6" height="3.6"/><rect x="180.72" y="36.4" width="3.6" height="3.6"/><rect x="185.51" y="36.4" width="3.6" height="3.6"/><rect x="190.29" y="36.4" width="3.6" height="3.6"/><rect x="195.08" y="36.4" width="3.6" height="3.6"/><rect x="199.86" y="36.4" width="3.6" height="3.6"/><rect x="204.65" y="36.4" width="3.6" height="3.6"/><rect x="209.44" y="36.4" width="3.6" height="3.6"/><rect x="214.22" y="36.4" width="3.6" height="3.6"/><rect x="219.01" y="36.4" width="3.6" height="3.6"/><rect x="223.79" y="36.4" width="3.6" height="3.6"/><rect x="228.58" y="36.4" width="3.6" height="3.6"/><rect x="233.37" y="36.4" width="3.6" height="3.6"/><rect x="238.15" y="36.4" width="3.6" height="3.6"/><rect x="242.94" y="36.4" width="3.6" height="3.6"/><rect x="247.72" y="36.4" width="3.6" height="3.6"/><rect x="252.51" y="36.4" width="3.6" height="3.6"/><rect x="257.3" y="36.4" width="3.6" height="3.6"/><rect x="262.08" y="36.4" width="3.6" height="3.6"/><rect x="265.2" y="36.4" width="3.6" height="3.6"/></g>
<polyline points="75.1,185.8 76.2,120.2 76.3,87.4 77.5,54 82.01,38.8 86.8,35.3 91.59,35.3 96.37,35.3 101.16,35.3 105.94,35.3 110.73,35.3 115.52,35.3 120.3,35.3 125.09,35.3 129.87,35.3 134.66,35.3 139.45,35.3 144.23,35.3 149.02,35.3 153.8,35.3 158.59,35.3 163.38,35.3 168.16,35.3 172.95,35.3 177.73,35.3 182.52,35.3 187.31,35.3 192.09,35.3 196.88,35.3 201.66,35.3 206.45,35.3 211.24,35.3 216.02,35.3 220.81,35.3 225.59,35.3 230.38,35.3 235.17,35.3 239.95,35.3 244.74,35.3 249.52,35.3 254.31,35.3 259.1,35.3 263.88,35.3 267,35.3" stroke="#f7b800" stroke-width="1" fill="none"/>
<g fill="#f7b800"><circle cx="75.1" cy="185.8" r="2.1"/><circle cx="76.2" cy="120.2" r="2.1"/><circle cx="76.3" cy="87.4" r="2.1"/><circle cx="77.5" cy="54" r="2.1"/><circle cx="82.01" cy="38.8" r="2.1"/><circle cx="86.8" cy="35.3" r="2.1"/><circle cx="91.59" cy="35.3" r="2.1"/><circle cx="96.37" cy="35.3" r="2.1"/><circle cx="101.16" cy="35.3" r="2.1"/><circle cx="105.94" cy="35.3" r="2.1"/><circle cx="110.73" cy="35.3" r="2.1"/><circle cx="115.52" cy="35.3" r="2.1"/><circle cx="120.3" cy="35.3" r="2.1"/><circle cx="125.09" cy="35.3" r="2.1"/><circle cx="129.87" cy="35.3" r="2.1"/><circle cx="134.66" cy="35.3" r="2.1"/><circle cx="139.45" cy="35.3" r="2.1"/><circle cx="144.23" cy="35.3" r="2.1"/><circle cx="149.02" cy="35.3" r="2.1"/><circle cx="153.8" cy="35.3" r="2.1"/><circle cx="158.59" cy="35.3" r="2.1"/><circle cx="163.38" cy="35.3" r="2.1"/><circle cx="168.16" cy="35.3" r="2.1"/><circle cx="172.95" cy="35.3" r="2.1"/><circle cx="177.73" cy="35.3" r="2.1"/><circle cx="182.52" cy="35.3" r="2.1"/><circle cx="187.31" cy="35.3" r="2.1"/><circle cx="192.09" cy="35.3" r="2.1"/><circle cx="196.88" cy="35.3" r="2.1"/><circle cx="201.66" cy="35.3" r="2.1"/><circle cx="206.45" cy="35.3" r="2.1"/><circle cx="211.24" cy="35.3" r="2.1"/><circle cx="216.02" cy="35.3" r="2.1"/><circle cx="220.81" cy="35.3" r="2.1"/><circle cx="225.59" cy="35.3" r="2.1"/><circle cx="230.38" cy="35.3" r="2.1"/><circle cx="235.17" cy="35.3" r="2.1"/><circle cx="239.95" cy="35.3" r="2.1"/><circle cx="244.74" cy="35.3" r="2.1"/><circle cx="249.52" cy="35.3" r="2.1"/><circle cx="254.31" cy="35.3" r="2.1"/><circle cx="259.1" cy="35.3" r="2.1"/><circle cx="263.88" cy="35.3" r="2.1"/><circle cx="267" cy="35.3" r="2.1"/></g>
<path d="M75.2,185.5 C75.27,181.25 75.43,170.08 75.6,160 C75.77,149.92 76,135 76.2,125 C76.4,115 76.52,107.58 76.8,100 C77.08,92.42 77.5,85.07 77.9,79.5 C78.3,73.93 78.78,69.98 79.2,66.6 C79.62,63.22 80,61.37 80.4,59.2 C80.8,57.03 81.05,55.53 81.6,53.6 C82.15,51.67 82.82,49.53 83.7,47.6 C84.58,45.67 85.62,43.4 86.9,42 C88.18,40.6 89.57,39.87 91.4,39.2 C93.23,38.53 94.8,38.25 97.9,38 C101,37.75 81.82,37.77 110,37.7 C138.18,37.63 240.83,37.62 267,37.6" stroke="#7d93c9" stroke-width="1.2" fill="none"/>
<path d="M75.2,185.5 C75.27,181.25 75.43,170.08 75.6,160 C75.77,149.92 76,135 76.2,125 C76.4,115 76.52,107.67 76.8,100 C77.08,92.33 77.5,84.67 77.9,79 C78.3,73.33 78.78,69.42 79.2,66 C79.62,62.58 80,60.7 80.4,58.5 C80.8,56.3 81.05,54.78 81.6,52.8 C82.15,50.82 82.82,48.6 83.7,46.6 C84.58,44.6 85.62,42.25 86.9,40.8 C88.18,39.35 89.57,38.6 91.4,37.9 C93.23,37.2 94.8,36.9 97.9,36.6 C101,36.3 81.82,36.2 110,36.1 C138.18,36 240.83,36.02 267,36" stroke="#fbd36a" stroke-width="1.2" fill="none"/>
<polyline points="86.8,49.2 91.59,123.8 96.37,160.4 101.16,175.5 105.94,183.4 110.73,186.8 115.52,187.1 120.3,187.8 125.09,187 129.87,187 134.66,187.4 139.45,186.2 144.23,185 149.02,185.9 153.8,185.2 158.59,184.6 163.38,184.6 168.16,185 172.95,185 177.73,183.6 182.52,183.2 187.31,182 192.09,182 196.88,182.6 201.66,183.2 206.45,181.4 211.24,180 216.02,181.2 220.81,180.8 225.59,181.7 230.38,180.6 235.17,181.7 239.95,182 244.74,180.6 249.52,180.2 254.31,181.7 259.1,181.7 263.88,180 267,180.2" stroke="#ff3fa4" stroke-width="1" fill="none"/>
<g fill="#ff3fa4"><rect x="85" y="47.4" width="3.6" height="3.6"/><rect x="89.79" y="122" width="3.6" height="3.6"/><rect x="94.57" y="158.6" width="3.6" height="3.6"/><rect x="99.36" y="173.7" width="3.6" height="3.6"/><rect x="104.14" y="181.6" width="3.6" height="3.6"/><rect x="108.93" y="185" width="3.6" height="3.6"/><rect x="113.72" y="185.3" width="3.6" height="3.6"/><rect x="118.5" y="186" width="3.6" height="3.6"/><rect x="123.29" y="185.2" width="3.6" height="3.6"/><rect x="128.07" y="185.2" width="3.6" height="3.6"/><rect x="132.86" y="185.6" width="3.6" height="3.6"/><rect x="137.65" y="184.4" width="3.6" height="3.6"/><rect x="142.43" y="183.2" width="3.6" height="3.6"/><rect x="147.22" y="184.1" width="3.6" height="3.6"/><rect x="152" y="183.4" width="3.6" height="3.6"/><rect x="156.79" y="182.8" width="3.6" height="3.6"/><rect x="161.58" y="182.8" width="3.6" height="3.6"/><rect x="166.36" y="183.2" width="3.6" height="3.6"/><rect x="171.15" y="183.2" width="3.6" height="3.6"/><rect x="175.93" y="181.8" width="3.6" height="3.6"/><rect x="180.72" y="181.4" width="3.6" height="3.6"/><rect x="185.51" y="180.2" width="3.6" height="3.6"/><rect x="190.29" y="180.2" width="3.6" height="3.6"/><rect x="195.08" y="180.8" width="3.6" height="3.6"/><rect x="199.86" y="181.4" width="3.6" height="3.6"/><rect x="204.65" y="179.6" width="3.6" height="3.6"/><rect x="209.44" y="178.2" width="3.6" height="3.6"/><rect x="214.22" y="179.4" width="3.6" height="3.6"/><rect x="219.01" y="179" width="3.6" height="3.6"/><rect x="223.79" y="179.9" width="3.6" height="3.6"/><rect x="228.58" y="178.8" width="3.6" height="3.6"/><rect x="233.37" y="179.9" width="3.6" height="3.6"/><rect x="238.15" y="180.2" width="3.6" height="3.6"/><rect x="242.94" y="178.8" width="3.6" height="3.6"/><rect x="247.72" y="178.4" width="3.6" height="3.6"/><rect x="252.51" y="179.9" width="3.6" height="3.6"/><rect x="257.3" y="179.9" width="3.6" height="3.6"/><rect x="262.08" y="178.2" width="3.6" height="3.6"/><rect x="265.2" y="178.4" width="3.6" height="3.6"/></g>
<polyline points="86.8,22.8 91.59,102 96.37,135.6 101.16,150.6 105.94,158.8 110.73,161.8 115.52,163 120.3,163 125.09,162 129.87,161.8 134.66,162.8 139.45,161.8 144.23,160.4 149.02,161.8 153.8,159.8 158.59,159.4 163.38,159.2 168.16,160.3 172.95,160 177.73,159.4 182.52,158.2 187.31,156.1 192.09,157 196.88,156.8 201.66,157.6 206.45,155.3 211.24,154.4 216.02,155.3 220.81,155.6 225.59,155.3 230.38,154.3 235.17,155.6 239.95,155.9 244.74,155.3 249.52,155.9 254.31,156.5 259.1,155.9 263.88,153.8 267,155.6" stroke="#ff3fa4" stroke-width="1" fill="none"/>
<g fill="#ff3fa4"><circle cx="86.8" cy="22.8" r="2.1"/><circle cx="91.59" cy="102" r="2.1"/><circle cx="96.37" cy="135.6" r="2.1"/><circle cx="101.16" cy="150.6" r="2.1"/><circle cx="105.94" cy="158.8" r="2.1"/><circle cx="110.73" cy="161.8" r="2.1"/><circle cx="115.52" cy="163" r="2.1"/><circle cx="120.3" cy="163" r="2.1"/><circle cx="125.09" cy="162" r="2.1"/><circle cx="129.87" cy="161.8" r="2.1"/><circle cx="134.66" cy="162.8" r="2.1"/><circle cx="139.45" cy="161.8" r="2.1"/><circle cx="144.23" cy="160.4" r="2.1"/><circle cx="149.02" cy="161.8" r="2.1"/><circle cx="153.8" cy="159.8" r="2.1"/><circle cx="158.59" cy="159.4" r="2.1"/><circle cx="163.38" cy="159.2" r="2.1"/><circle cx="168.16" cy="160.3" r="2.1"/><circle cx="172.95" cy="160" r="2.1"/><circle cx="177.73" cy="159.4" r="2.1"/><circle cx="182.52" cy="158.2" r="2.1"/><circle cx="187.31" cy="156.1" r="2.1"/><circle cx="192.09" cy="157" r="2.1"/><circle cx="196.88" cy="156.8" r="2.1"/><circle cx="201.66" cy="157.6" r="2.1"/><circle cx="206.45" cy="155.3" r="2.1"/><circle cx="211.24" cy="154.4" r="2.1"/><circle cx="216.02" cy="155.3" r="2.1"/><circle cx="220.81" cy="155.6" r="2.1"/><circle cx="225.59" cy="155.3" r="2.1"/><circle cx="230.38" cy="154.3" r="2.1"/><circle cx="235.17" cy="155.6" r="2.1"/><circle cx="239.95" cy="155.9" r="2.1"/><circle cx="244.74" cy="155.3" r="2.1"/><circle cx="249.52" cy="155.9" r="2.1"/><circle cx="254.31" cy="156.5" r="2.1"/><circle cx="259.1" cy="155.9" r="2.1"/><circle cx="263.88" cy="153.8" r="2.1"/><circle cx="267" cy="155.6" r="2.1"/></g>
<ellipse cx="140.4" cy="37" rx="5.2" ry="11.35" stroke="#222" stroke-width="1" fill="none"/>
<path d="M140.4,25.9 H124.2" stroke="#222" stroke-width="1" fill="none"/>
<path d="M120.2,25.9 L125.7,24.1 L125.7,27.7 Z" fill="#111"/>
<ellipse cx="89.3" cy="80" rx="5.3" ry="11.05" stroke="#222" stroke-width="1" fill="none"/>
<path d="M89.3,91.1 H106.8" stroke="#222" stroke-width="1" fill="none"/>
<path d="M110.8,91.1 L105.3,89.3 L105.3,92.9 Z" fill="#111"/>
<rect x="178.4" y="49.4" width="104" height="67.6" fill="#fff" stroke="#ababab" stroke-width="1.1"/>
<path d="M179.2,55.6 H200" stroke="#2b4a9e" stroke-width="1"/>
<rect x="187.8" y="53.7" width="3.8" height="3.8" fill="#2b4a9e"/>
<text x="202.2" y="58" font-family="Liberation Serif" font-size="9" fill="#1a1a1a" stroke="#1a1a1a" stroke-width="0.15">Cathode (simulation)</text>
<path d="M179.2,66.74 H200" stroke="#f7b800" stroke-width="1"/>
<circle cx="189.6" cy="66.74" r="2" fill="#f7b800"/>
<text x="202.2" y="69" font-family="Liberation Serif" font-size="9" fill="#1a1a1a" stroke="#1a1a1a" stroke-width="0.15">Anode (simulation)</text>
<path d="M179.2,77.88 H200" stroke="#7d93c9" stroke-width="1.4"/>
<text x="202.2" y="81" font-family="Liberation Serif" font-size="9" fill="#1a1a1a" stroke="#1a1a1a" stroke-width="0.15">Cathode (experiment)</text>
<path d="M179.2,89.02 H200" stroke="#fbd36a" stroke-width="1.4"/>
<text x="202.2" y="92" font-family="Liberation Serif" font-size="9" fill="#1a1a1a" stroke="#1a1a1a" stroke-width="0.15">Anode (experiment)</text>
<path d="M179.2,100.16 H200" stroke="#ff3fa4" stroke-width="1"/>
<rect x="187.8" y="98.26" width="3.8" height="3.8" fill="#ff3fa4"/>
<text x="202.2" y="103" font-family="Liberation Serif" font-size="9" fill="#1a1a1a" stroke="#1a1a1a" stroke-width="0.15">Cathode</text>
<path d="M179.2,111.3 H200" stroke="#ff3fa4" stroke-width="1"/>
<circle cx="189.6" cy="111.3" r="2" fill="#ff3fa4"/>
<text x="202.2" y="114" font-family="Liberation Serif" font-size="9" fill="#1a1a1a" stroke="#1a1a1a" stroke-width="0.15">Anode</text>
<path d="M48,202 H288.1" stroke="#3c3c3c" stroke-width="1.4"/>
<path d="M48.5,202 v-4 M61.78,202 v-2 M75.07,202 v-4 M88.35,202 v-2 M101.63,202 v-4 M114.92,202 v-2 M128.2,202 v-4 M141.48,202 v-2 M154.77,202 v-4 M168.05,202 v-2 M181.33,202 v-4 M194.62,202 v-2 M207.9,202 v-4 M221.18,202 v-2 M234.47,202 v-4 M247.75,202 v-2 M261.03,202 v-4 M274.32,202 v-2 M287.6,202 v-4" stroke="#444" stroke-width="1"/>
<path d="M48.5,9 V202.5 M48.5,202 h4 M48.5,185.96 h2 M48.5,169.92 h4 M48.5,153.88 h2 M48.5,137.83 h4 M48.5,121.79 h2 M48.5,105.75 h4 M48.5,89.71 h2 M48.5,73.67 h4 M48.5,57.62 h2 M48.5,41.58 h4 M48.5,25.54 h2 M48.5,9.5 h4" stroke="#4a68b3" stroke-width="1"/>
<path d="M48,9.5 H288.1 M48.5,9.5 v4 M61.78,9.5 v2 M75.07,9.5 v4 M88.35,9.5 v2 M101.63,9.5 v4 M114.92,9.5 v2 M128.2,9.5 v4 M141.48,9.5 v2 M154.77,9.5 v4 M168.05,9.5 v2 M181.33,9.5 v4 M194.62,9.5 v2 M207.9,9.5 v4 M221.18,9.5 v2 M234.47,9.5 v4 M247.75,9.5 v2 M261.03,9.5 v4 M274.32,9.5 v2 M287.6,9.5 v4" stroke="#444" stroke-width="1"/>
<path d="M287.9,9 V202.6" stroke="#ff55ae" stroke-width="1.2"/>
<path d="M287.8,202 h-2.2 M287.8,196.34 h-4.2 M287.8,190.68 h-2.2 M287.8,185.01 h-4.2 M287.8,179.35 h-2.2 M287.8,173.69 h-4.2 M287.8,168.03 h-2.2 M287.8,162.37 h-4.2 M287.8,156.71 h-2.2 M287.8,151.04 h-4.2 M287.8,145.38 h-2.2 M287.8,139.72 h-4.2 M287.8,134.06 h-2.2 M287.8,128.4 h-4.2 M287.8,122.74 h-2.2 M287.8,117.07 h-4.2 M287.8,111.41 h-2.2 M287.8,105.75 h-4.2 M287.8,100.09 h-2.2 M287.8,94.43 h-4.2 M287.8,88.76 h-2.2 M287.8,83.1 h-4.2 M287.8,77.44 h-2.2 M287.8,71.78 h-4.2 M287.8,66.12 h-2.2 M287.8,60.46 h-4.2 M287.8,54.79 h-2.2 M287.8,49.13 h-4.2 M287.8,43.47 h-2.2 M287.8,37.81 h-4.2 M287.8,32.15 h-2.2 M287.8,26.49 h-4.2 M287.8,20.82 h-2.2 M287.8,15.16 h-4.2 M287.8,9.5 h-2.2" stroke="#ff55ae" stroke-width="1"/>
<g font-family="Liberation Serif" font-size="9" font-weight="bold" fill="#3a58a8" text-anchor="end" stroke="#3a58a8" stroke-width="0.15"><text x="44.6" y="205">20</text><text x="44.6" y="173">30</text><text x="44.6" y="141">40</text><text x="44.6" y="109">50</text><text x="44.6" y="76">60</text><text x="44.6" y="44">70</text><text x="44.6" y="12">80</text></g>
<g font-family="Liberation Serif" font-size="9" font-weight="bold" fill="#1a1a1a" text-anchor="middle" stroke="#1a1a1a" stroke-width="0.15"><text x="48.5" y="214">−10000</text><text x="75.07" y="214">0</text><text x="101.63" y="214">10000</text><text x="128.2" y="214">20000</text><text x="154.77" y="214">30000</text><text x="181.33" y="214">40000</text><text x="207.9" y="214">50000</text><text x="234.47" y="214">60000</text><text x="261.03" y="214">70000</text><text x="287.6" y="214">80000</text></g>
<g font-family="Liberation Serif" font-size="9" font-weight="bold" fill="#ff3fa4" stroke="#ff3fa4" stroke-width="0.15"><text x="292.0" y="199">−0.4</text><text x="292.0" y="188">−0.2</text><text x="292.0" y="177">0.0</text><text x="292.0" y="165">0.2</text><text x="292.0" y="154">0.4</text><text x="292.0" y="143">0.6</text><text x="292.0" y="131">0.8</text><text x="292.0" y="120">1.0</text><text x="292.0" y="109">1.2</text><text x="292.0" y="97">1.4</text><text x="292.0" y="86">1.6</text><text x="292.0" y="75">1.8</text><text x="292.0" y="63">2.0</text><text x="292.0" y="52">2.2</text><text x="292.0" y="41">2.4</text><text x="292.0" y="29">2.6</text><text x="292.0" y="18">2.8</text></g>
<text transform="translate(29.0,105.5) rotate(-90)" font-family="Liberation Serif" font-size="10" font-weight="bold" fill="#3a58a8" text-anchor="middle" stroke="#3a58a8" stroke-width="0.15">Temperature (°C)</text>
<text transform="translate(321.0,104.0) rotate(-90)" font-family="Liberation Serif" font-size="10" font-weight="bold" fill="#ff3fa4" text-anchor="middle" stroke="#ff3fa4" stroke-width="0.15">Temperature error (°C)</text>
<text x="168.4" y="229.5" font-family="Liberation Serif" font-size="10" font-weight="bold" fill="#1a1a1a" text-anchor="middle" stroke="#1a1a1a" stroke-width="0.15">Time (s)</text>
</g>
<g transform="translate(362,229)">
<path d="M75.07,10 V201.5 M101.63,10 V201.5 M128.2,10 V201.5 M154.77,10 V201.5 M181.33,10 V201.5 M207.9,10 V201.5 M234.47,10 V201.5 M261.03,10 V201.5 M49,169.92 H287.1 M49,137.83 H287.1 M49,105.75 H287.1 M49,73.67 H287.1 M49,41.58 H287.1" stroke="#ebebeb" stroke-width="1" fill="none"/>
<polyline points="75.1,185.8 76.2,117.6 76.3,84.9 77.5,54.8 82.01,41.2 86.8,38.2 91.59,38.2 96.37,38.2 101.16,38.2 105.94,38.2 110.73,38.2 115.52,38.2 120.3,38.2 125.09,38.2 129.87,38.2 134.66,38.2 139.45,38.2 144.23,38.2 149.02,38.2 153.8,38.2 158.59,38.2 163.38,38.2 168.16,38.2 172.95,38.2 177.73,38.2 182.52,38.2 187.31,38.2 192.09,38.2 196.88,38.2 201.66,38.2 206.45,38.2 211.24,38.2 216.02,38.2 220.81,38.2 225.59,38.2 230.38,38.2 235.17,38.2 239.95,38.2 244.74,38.2 249.52,38.2 254.31,38.2 259.1,38.2 263.88,38.2 267,38.2" stroke="#2b4a9e" stroke-width="1" fill="none"/>
<g fill="#2b4a9e"><rect x="73.3" y="184" width="3.6" height="3.6"/><rect x="74.4" y="115.8" width="3.6" height="3.6"/><rect x="74.5" y="83.1" width="3.6" height="3.6"/><rect x="75.7" y="53" width="3.6" height="3.6"/><rect x="80.21" y="39.4" width="3.6" height="3.6"/><rect x="85" y="36.4" width="3.6" height="3.6"/><rect x="89.79" y="36.4" width="3.6" height="3.6"/><rect x="94.57" y="36.4" width="3.6" height="3.6"/><rect x="99.36" y="36.4" width="3.6" height="3.6"/><rect x="104.14" y="36.4" width="3.6" height="3.6"/><rect x="108.93" y="36.4" width="3.6" height="3.6"/><rect x="113.72" y="36.4" width="3.6" height="3.6"/><rect x="118.5" y="36.4" width="3.6" height="3.6"/><rect x="123.29" y="36.4" width="3.6" height="3.6"/><rect x="128.07" y="36.4" width="3.6" height="3.6"/><rect x="132.86" y="36.4" width="3.6" height="3.6"/><rect x="137.65" y="36.4" width="3.6" height="3.6"/><rect x="142.43" y="36.4" width="3.6" height="3.6"/><rect x="147.22" y="36.4" width="3.6" height="3.6"/><rect x="152" y="36.4" width="3.6" height="3.6"/><rect x="156.79" y="36.4" width="3.6" height="3.6"/><rect x="161.58" y="36.4" width="3.6" height="3.6"/><rect x="166.36" y="36.4" width="3.6" height="3.6"/><rect x="171.15" y="36.4" width="3.6" height="3.6"/><rect x="175.93" y="36.4" width="3.6" height="3.6"/><rect x="180.72" y="36.4" width="3.6" height="3.6"/><rect x="185.51" y="36.4" width="3.6" height="3.6"/><rect x="190.29" y="36.4" width="3.6" height="3.6"/><rect x="195.08" y="36.4" width="3.6" height="3.6"/><rect x="199.86" y="36.4" width="3.6" height="3.6"/><rect x="204.65" y="36.4" width="3.6" height="3.6"/><rect x="209.44" y="36.4" width="3.6" height="3.6"/><rect x="214.22" y="36.4" width="3.6" height="3.6"/><rect x="219.01" y="36.4" width="3.6" height="3.6"/><rect x="223.79" y="36.4" width="3.6" height="3.6"/><rect x="228.58" y="36.4" width="3.6" height="3.6"/><rect x="233.37" y="36.4" width="3.6" height="3.6"/><rect x="238.15" y="36.4" width="3.6" height="3.6"/><rect x="242.94" y="36.4" width="3.6" height="3.6"/><rect x="247.72" y="36.4" width="3.6" height="3.6"/><rect x="252.51" y="36.4" width="3.6" height="3.6"/><rect x="257.3" y="36.4" width="3.6" height="3.6"/><rect x="262.08" y="36.4" width="3.6" height="3.6"/><rect x="265.2" y="36.4" width="3.6" height="3.6"/></g>
<polyline points="75.1,185.8 76.2,120.2 76.3,87.4 77.5,54 82.01,38.8 86.8,35.3 91.59,35.3 96.37,35.3 101.16,35.3 105.94,35.3 110.73,35.3 115.52,35.3 120.3,35.3 125.09,35.3 129.87,35.3 134.66,35.3 139.45,35.3 144.23,35.3 149.02,35.3 153.8,35.3 158.59,35.3 163.38,35.3 168.16,35.3 172.95,35.3 177.73,35.3 182.52,35.3 187.31,35.3 192.09,35.3 196.88,35.3 201.66,35.3 206.45,35.3 211.24,35.3 216.02,35.3 220.81,35.3 225.59,35.3 230.38,35.3 235.17,35.3 239.95,35.3 244.74,35.3 249.52,35.3 254.31,35.3 259.1,35.3 263.88,35.3 267,35.3" stroke="#f7b800" stroke-width="1" fill="none"/>
<g fill="#f7b800"><circle cx="75.1" cy="185.8" r="2.1"/><circle cx="76.2" cy="120.2" r="2.1"/><circle cx="76.3" cy="87.4" r="2.1"/><circle cx="77.5" cy="54" r="2.1"/><circle cx="82.01" cy="38.8" r="2.1"/><circle cx="86.8" cy="35.3" r="2.1"/><circle cx="91.59" cy="35.3" r="2.1"/><circle cx="96.37" cy="35.3" r="2.1"/><circle cx="101.16" cy="35.3" r="2.1"/><circle cx="105.94" cy="35.3" r="2.1"/><circle cx="110.73" cy="35.3" r="2.1"/><circle cx="115.52" cy="35.3" r="2.1"/><circle cx="120.3" cy="35.3" r="2.1"/><circle cx="125.09" cy="35.3" r="2.1"/><circle cx="129.87" cy="35.3" r="2.1"/><circle cx="134.66" cy="35.3" r="2.1"/><circle cx="139.45" cy="35.3" r="2.1"/><circle cx="144.23" cy="35.3" r="2.1"/><circle cx="149.02" cy="35.3" r="2.1"/><circle cx="153.8" cy="35.3" r="2.1"/><circle cx="158.59" cy="35.3" r="2.1"/><circle cx="163.38" cy="35.3" r="2.1"/><circle cx="168.16" cy="35.3" r="2.1"/><circle cx="172.95" cy="35.3" r="2.1"/><circle cx="177.73" cy="35.3" r="2.1"/><circle cx="182.52" cy="35.3" r="2.1"/><circle cx="187.31" cy="35.3" r="2.1"/><circle cx="192.09" cy="35.3" r="2.1"/><circle cx="196.88" cy="35.3" r="2.1"/><circle cx="201.66" cy="35.3" r="2.1"/><circle cx="206.45" cy="35.3" r="2.1"/><circle cx="211.24" cy="35.3" r="2.1"/><circle cx="216.02" cy="35.3" r="2.1"/><circle cx="220.81" cy="35.3" r="2.1"/><circle cx="225.59" cy="35.3" r="2.1"/><circle cx="230.38" cy="35.3" r="2.1"/><circle cx="235.17" cy="35.3" r="2.1"/><circle cx="239.95" cy="35.3" r="2.1"/><circle cx="244.74" cy="35.3" r="2.1"/><circle cx="249.52" cy="35.3" r="2.1"/><circle cx="254.31" cy="35.3" r="2.1"/><circle cx="259.1" cy="35.3" r="2.1"/><circle cx="263.88" cy="35.3" r="2.1"/><circle cx="267" cy="35.3" r="2.1"/></g>
<path d="M75.2,185.7 C75.3,179.78 75.6,161.12 75.8,150.2 C76,139.28 76.2,128.53 76.4,120.2 C76.6,111.87 76.77,106.87 77,100.2 C77.23,93.53 77.5,86.37 77.8,80.2 C78.1,74.03 78.43,67.53 78.8,63.2 C79.17,58.87 79.57,56.53 80,54.2 C80.43,51.87 80.9,50.45 81.4,49.2 C81.9,47.95 82.4,47.3 83,46.7 C83.6,46.1 84.17,45.87 85,45.6 C85.83,45.33 86.25,45.3 88,45.1 C89.75,44.9 93.37,44.78 95.5,44.4 C97.63,44.02 99.05,43.3 100.8,42.8 C102.55,42.3 103.97,41.83 106,41.4 C108.03,40.97 110.67,40.57 113,40.2 C115.33,39.83 117.95,39.48 120,39.2 C122.05,38.92 123.55,38.68 125.3,38.5 C127.05,38.32 128.05,38.2 130.5,38.1 C132.95,38 117.25,37.93 140,37.9 C162.75,37.87 245.83,37.9 267,37.9" stroke="#7d93c9" stroke-width="1.2" fill="none"/>
<path d="M75.2,185.5 C75.3,179.58 75.6,160.92 75.8,150 C76,139.08 76.2,128.33 76.4,120 C76.6,111.67 76.77,106.67 77,100 C77.23,93.33 77.5,86.17 77.8,80 C78.1,73.83 78.43,67.33 78.8,63 C79.17,58.67 79.57,56.33 80,54 C80.43,51.67 80.9,50.25 81.4,49 C81.9,47.75 82.4,47.1 83,46.5 C83.6,45.9 84.17,45.67 85,45.4 C85.83,45.13 86.25,45.1 88,44.9 C89.75,44.7 93.37,44.58 95.5,44.2 C97.63,43.82 99.05,43.1 100.8,42.6 C102.55,42.1 103.97,41.63 106,41.2 C108.03,40.77 110.67,40.37 113,40 C115.33,39.63 117.95,39.28 120,39 C122.05,38.72 123.55,38.48 125.3,38.3 C127.05,38.12 128.05,38 130.5,37.9 C132.95,37.8 117.25,37.73 140,37.7 C162.75,37.67 245.83,37.7 267,37.7" stroke="#fbd36a" stroke-width="1.2" fill="none"/>
<polyline points="86.8,47.2 91.59,51.6 96.37,57.6 101.16,89.4 105.94,117 110.73,127.6 115.52,138.7 120.3,157.7 125.09,171 129.87,177.1 134.66,181.2 139.45,184.6 144.23,185.7 149.02,186.5 153.8,186 158.59,186.8 163.38,186.9 168.16,188 172.95,188.1 177.73,187.4 182.52,186.8 187.31,187.4 192.09,187.4 196.88,186.8 201.66,186.8 206.45,186.3 211.24,186.3 216.02,186.9 220.81,185.9 225.59,185.9 230.38,185.9 235.17,186.1 239.95,185.9 244.74,186.3 249.52,186.1 254.31,186.1 259.1,186.9 263.88,186.9 267,185.9" stroke="#ff3fa4" stroke-width="1" fill="none"/>
<g fill="#ff3fa4"><rect x="85" y="45.4" width="3.6" height="3.6"/><rect x="89.79" y="49.8" width="3.6" height="3.6"/><rect x="94.57" y="55.8" width="3.6" height="3.6"/><rect x="99.36" y="87.6" width="3.6" height="3.6"/><rect x="104.14" y="115.2" width="3.6" height="3.6"/><rect x="108.93" y="125.8" width="3.6" height="3.6"/><rect x="113.72" y="136.9" width="3.6" height="3.6"/><rect x="118.5" y="155.9" width="3.6" height="3.6"/><rect x="123.29" y="169.2" width="3.6" height="3.6"/><rect x="128.07" y="175.3" width="3.6" height="3.6"/><rect x="132.86" y="179.4" width="3.6" height="3.6"/><rect x="137.65" y="182.8" width="3.6" height="3.6"/><rect x="142.43" y="183.9" width="3.6" height="3.6"/><rect x="147.22" y="184.7" width="3.6" height="3.6"/><rect x="152" y="184.2" width="3.6" height="3.6"/><rect x="156.79" y="185" width="3.6" height="3.6"/><rect x="161.58" y="185.1" width="3.6" height="3.6"/><rect x="166.36" y="186.2" width="3.6" height="3.6"/><rect x="171.15" y="186.3" width="3.6" height="3.6"/><rect x="175.93" y="185.6" width="3.6" height="3.6"/><rect x="180.72" y="185" width="3.6" height="3.6"/><rect x="185.51" y="185.6" width="3.6" height="3.6"/><rect x="190.29" y="185.6" width="3.6" height="3.6"/><rect x="195.08" y="185" width="3.6" height="3.6"/><rect x="199.86" y="185" width="3.6" height="3.6"/><rect x="204.65" y="184.5" width="3.6" height="3.6"/><rect x="209.44" y="184.5" width="3.6" height="3.6"/><rect x="214.22" y="185.1" width="3.6" height="3.6"/><rect x="219.01" y="184.1" width="3.6" height="3.6"/><rect x="223.79" y="184.1" width="3.6" height="3.6"/><rect x="228.58" y="184.1" width="3.6" height="3.6"/><rect x="233.37" y="184.3" width="3.6" height="3.6"/><rect x="238.15" y="184.1" width="3.6" height="3.6"/><rect x="242.94" y="184.5" width="3.6" height="3.6"/><rect x="247.72" y="184.3" width="3.6" height="3.6"/><rect x="252.51" y="184.3" width="3.6" height="3.6"/><rect x="257.3" y="185.1" width="3.6" height="3.6"/><rect x="262.08" y="185.1" width="3.6" height="3.6"/><rect x="265.2" y="184.1" width="3.6" height="3.6"/></g>
<polyline points="86.8,20.7 91.59,23.9 96.37,24.3 101.16,57.3 105.94,83.8 110.73,94.2 115.52,104.2 120.3,122.2 125.09,133.1 129.87,140.1 134.66,144.9 139.45,147.9 144.23,149.1 149.02,149 153.8,149.9 158.59,150.2 163.38,151.2 168.16,150.8 172.95,151.3 177.73,151.3 182.52,150.9 187.31,150.3 192.09,150 196.88,150.3 201.66,150.5 206.45,150.5 211.24,150.9 216.02,149.6 220.81,150.3 225.59,150 230.38,149.3 235.17,149 239.95,149 244.74,149 249.52,149 254.31,149.9 259.1,149.3 263.88,149.6 267,150.5" stroke="#ff3fa4" stroke-width="1" fill="none"/>
<g fill="#ff3fa4"><circle cx="86.8" cy="20.7" r="2.1"/><circle cx="91.59" cy="23.9" r="2.1"/><circle cx="96.37" cy="24.3" r="2.1"/><circle cx="101.16" cy="57.3" r="2.1"/><circle cx="105.94" cy="83.8" r="2.1"/><circle cx="110.73" cy="94.2" r="2.1"/><circle cx="115.52" cy="104.2" r="2.1"/><circle cx="120.3" cy="122.2" r="2.1"/><circle cx="125.09" cy="133.1" r="2.1"/><circle cx="129.87" cy="140.1" r="2.1"/><circle cx="134.66" cy="144.9" r="2.1"/><circle cx="139.45" cy="147.9" r="2.1"/><circle cx="144.23" cy="149.1" r="2.1"/><circle cx="149.02" cy="149" r="2.1"/><circle cx="153.8" cy="149.9" r="2.1"/><circle cx="158.59" cy="150.2" r="2.1"/><circle cx="163.38" cy="151.2" r="2.1"/><circle cx="168.16" cy="150.8" r="2.1"/><circle cx="172.95" cy="151.3" r="2.1"/><circle cx="177.73" cy="151.3" r="2.1"/><circle cx="182.52" cy="150.9" r="2.1"/><circle cx="187.31" cy="150.3" r="2.1"/><circle cx="192.09" cy="150" r="2.1"/><circle cx="196.88" cy="150.3" r="2.1"/><circle cx="201.66" cy="150.5" r="2.1"/><circle cx="206.45" cy="150.5" r="2.1"/><circle cx="211.24" cy="150.9" r="2.1"/><circle cx="216.02" cy="149.6" r="2.1"/><circle cx="220.81" cy="150.3" r="2.1"/><circle cx="225.59" cy="150" r="2.1"/><circle cx="230.38" cy="149.3" r="2.1"/><circle cx="235.17" cy="149" r="2.1"/><circle cx="239.95" cy="149" r="2.1"/><circle cx="244.74" cy="149" r="2.1"/><circle cx="249.52" cy="149" r="2.1"/><circle cx="254.31" cy="149.9" r="2.1"/><circle cx="259.1" cy="149.3" r="2.1"/><circle cx="263.88" cy="149.6" r="2.1"/><circle cx="267" cy="150.5" r="2.1"/></g>
<ellipse cx="140" cy="37.1" rx="4.95" ry="11.2" stroke="#222" stroke-width="1" fill="none"/>
<path d="M140,26.1 H123.9" stroke="#222" stroke-width="1" fill="none"/>
<path d="M119.9,26.1 L125.4,24.3 L125.4,27.9 Z" fill="#111"/>
<ellipse cx="100" cy="70.1" rx="4.85" ry="11.25" stroke="#222" stroke-width="1" fill="none"/>
<path d="M100,81.4 H117.3" stroke="#222" stroke-width="1" fill="none"/>
<path d="M121.3,81.4 L115.8,79.6 L115.8,83.2 Z" fill="#111"/>
<rect x="178.4" y="49.4" width="104" height="67.6" fill="#fff" stroke="#ababab" stroke-width="1.1"/>
<path d="M179.2,55.6 H200" stroke="#2b4a9e" stroke-width="1"/>
<rect x="187.8" y="53.7" width="3.8" height="3.8" fill="#2b4a9e"/>
<text x="202.2" y="58" font-family="Liberation Serif" font-size="9" fill="#1a1a1a" stroke="#1a1a1a" stroke-width="0.15">Cathode (simulation)</text>
<path d="M179.2,66.74 H200" stroke="#f7b800" stroke-width="1"/>
<circle cx="189.6" cy="66.74" r="2" fill="#f7b800"/>
<text x="202.2" y="69" font-family="Liberation Serif" font-size="9" fill="#1a1a1a" stroke="#1a1a1a" stroke-width="0.15">Anode (simulation)</text>
<path d="M179.2,77.88 H200" stroke="#7d93c9" stroke-width="1.4"/>
<text x="202.2" y="81" font-family="Liberation Serif" font-size="9" fill="#1a1a1a" stroke="#1a1a1a" stroke-width="0.15">Cathode (experiment)</text>
<path d="M179.2,89.02 H200" stroke="#fbd36a" stroke-width="1.4"/>
<text x="202.2" y="92" font-family="Liberation Serif" font-size="9" fill="#1a1a1a" stroke="#1a1a1a" stroke-width="0.15">Anode (experiment)</text>
<path d="M179.2,100.16 H200" stroke="#ff3fa4" stroke-width="1"/>
<rect x="187.8" y="98.26" width="3.8" height="3.8" fill="#ff3fa4"/>
<text x="202.2" y="103" font-family="Liberation Serif" font-size="9" fill="#1a1a1a" stroke="#1a1a1a" stroke-width="0.15">Cathode</text>
<path d="M179.2,111.3 H200" stroke="#ff3fa4" stroke-width="1"/>
<circle cx="189.6" cy="111.3" r="2" fill="#ff3fa4"/>
<text x="202.2" y="114" font-family="Liberation Serif" font-size="9" fill="#1a1a1a" stroke="#1a1a1a" stroke-width="0.15">Anode</text>
<path d="M48,202 H288.1" stroke="#3c3c3c" stroke-width="1.4"/>
<path d="M48.5,202 v-4 M61.78,202 v-2 M75.07,202 v-4 M88.35,202 v-2 M101.63,202 v-4 M114.92,202 v-2 M128.2,202 v-4 M141.48,202 v-2 M154.77,202 v-4 M168.05,202 v-2 M181.33,202 v-4 M194.62,202 v-2 M207.9,202 v-4 M221.18,202 v-2 M234.47,202 v-4 M247.75,202 v-2 M261.03,202 v-4 M274.32,202 v-2 M287.6,202 v-4" stroke="#444" stroke-width="1"/>
<path d="M48.5,9 V202.5 M48.5,202 h4 M48.5,185.96 h2 M48.5,169.92 h4 M48.5,153.88 h2 M48.5,137.83 h4 M48.5,121.79 h2 M48.5,105.75 h4 M48.5,89.71 h2 M48.5,73.67 h4 M48.5,57.62 h2 M48.5,41.58 h4 M48.5,25.54 h2 M48.5,9.5 h4" stroke="#4a68b3" stroke-width="1"/>
<path d="M48,9.5 H288.1 M48.5,9.5 v4 M61.78,9.5 v2 M75.07,9.5 v4 M88.35,9.5 v2 M101.63,9.5 v4 M114.92,9.5 v2 M128.2,9.5 v4 M141.48,9.5 v2 M154.77,9.5 v4 M168.05,9.5 v2 M181.33,9.5 v4 M194.62,9.5 v2 M207.9,9.5 v4 M221.18,9.5 v2 M234.47,9.5 v4 M247.75,9.5 v2 M261.03,9.5 v4 M274.32,9.5 v2 M287.6,9.5 v4" stroke="#444" stroke-width="1"/>
<path d="M287.9,9 V202.6" stroke="#ff55ae" stroke-width="1.2"/>
<path d="M287.8,202 h-4.2 M287.8,196.17 h-2.2 M287.8,190.33 h-4.2 M287.8,184.5 h-2.2 M287.8,178.67 h-4.2 M287.8,172.83 h-2.2 M287.8,167 h-4.2 M287.8,161.17 h-2.2 M287.8,155.33 h-4.2 M287.8,149.5 h-2.2 M287.8,143.67 h-4.2 M287.8,137.83 h-2.2 M287.8,132 h-4.2 M287.8,126.17 h-2.2 M287.8,120.33 h-4.2 M287.8,114.5 h-2.2 M287.8,108.67 h-4.2 M287.8,102.83 h-2.2 M287.8,97 h-4.2 M287.8,91.17 h-2.2 M287.8,85.33 h-4.2 M287.8,79.5 h-2.2 M287.8,73.67 h-4.2 M287.8,67.83 h-2.2 M287.8,62 h-4.2 M287.8,56.17 h-2.2 M287.8,50.33 h-4.2 M287.8,44.5 h-2.2 M287.8,38.67 h-4.2 M287.8,32.83 h-2.2 M287.8,27 h-4.2 M287.8,21.17 h-2.2 M287.8,15.33 h-4.2 M287.8,9.5 h-2.2" stroke="#ff55ae" stroke-width="1"/>
<g font-family="Liberation Serif" font-size="9" font-weight="bold" fill="#3a58a8" text-anchor="end" stroke="#3a58a8" stroke-width="0.15"><text x="44.6" y="205">20</text><text x="44.6" y="173">30</text><text x="44.6" y="141">40</text><text x="44.6" y="109">50</text><text x="44.6" y="76">60</text><text x="44.6" y="44">70</text><text x="44.6" y="12">80</text></g>
<g font-family="Liberation Serif" font-size="9" font-weight="bold" fill="#1a1a1a" text-anchor="middle" stroke="#1a1a1a" stroke-width="0.15"><text x="48.5" y="214">−10000</text><text x="75.07" y="214">0</text><text x="101.63" y="214">10000</text><text x="128.2" y="214">20000</text><text x="154.77" y="214">30000</text><text x="181.33" y="214">40000</text><text x="207.9" y="214">50000</text><text x="234.47" y="214">60000</text><text x="261.03" y="214">70000</text><text x="287.6" y="214">80000</text></g>
<g font-family="Liberation Serif" font-size="9" font-weight="bold" fill="#ff3fa4" stroke="#ff3fa4" stroke-width="0.15"><text x="292.0" y="205">−0.2</text><text x="292.0" y="193">0.0</text><text x="292.0" y="182">0.2</text><text x="292.0" y="170">0.4</text><text x="292.0" y="158">0.6</text><text x="292.0" y="147">0.8</text><text x="292.0" y="135">1.0</text><text x="292.0" y="123">1.2</text><text x="292.0" y="112">1.4</text><text x="292.0" y="100">1.6</text><text x="292.0" y="88">1.8</text><text x="292.0" y="77">2.0</text><text x="292.0" y="65">2.2</text><text x="292.0" y="53">2.4</text><text x="292.0" y="42">2.6</text><text x="292.0" y="30">2.8</text><text x="292.0" y="18">3.0</text></g>
<text transform="translate(29.0,105.5) rotate(-90)" font-family="Liberation Serif" font-size="10" font-weight="bold" fill="#3a58a8" text-anchor="middle" stroke="#3a58a8" stroke-width="0.15">Temperature (°C)</text>
<text transform="translate(321.0,104.0) rotate(-90)" font-family="Liberation Serif" font-size="10" font-weight="bold" fill="#ff3fa4" text-anchor="middle" stroke="#ff3fa4" stroke-width="0.15">Temperature error (°C)</text>
<text x="168.4" y="229.5" font-family="Liberation Serif" font-size="10" font-weight="bold" fill="#1a1a1a" text-anchor="middle" stroke="#1a1a1a" stroke-width="0.15">Time (s)</text>
</g>
<text x="1.2" y="12.9" font-family="Liberation Serif" font-size="16.5" fill="#1a1a1a" stroke="none">(a)</text>
<text x="348.2" y="12.9" font-family="Liberation Serif" font-size="16.5" fill="#1a1a1a" stroke="none">(b)</text>
<text x="1.2" y="243.6" font-family="Liberation Serif" font-size="16.5" fill="#1a1a1a" stroke="none">(c)</text>
<text x="348.2" y="243.6" font-family="Liberation Serif" font-size="16.5" fill="#1a1a1a" stroke="none">(d)</text></svg>
</body></html>
